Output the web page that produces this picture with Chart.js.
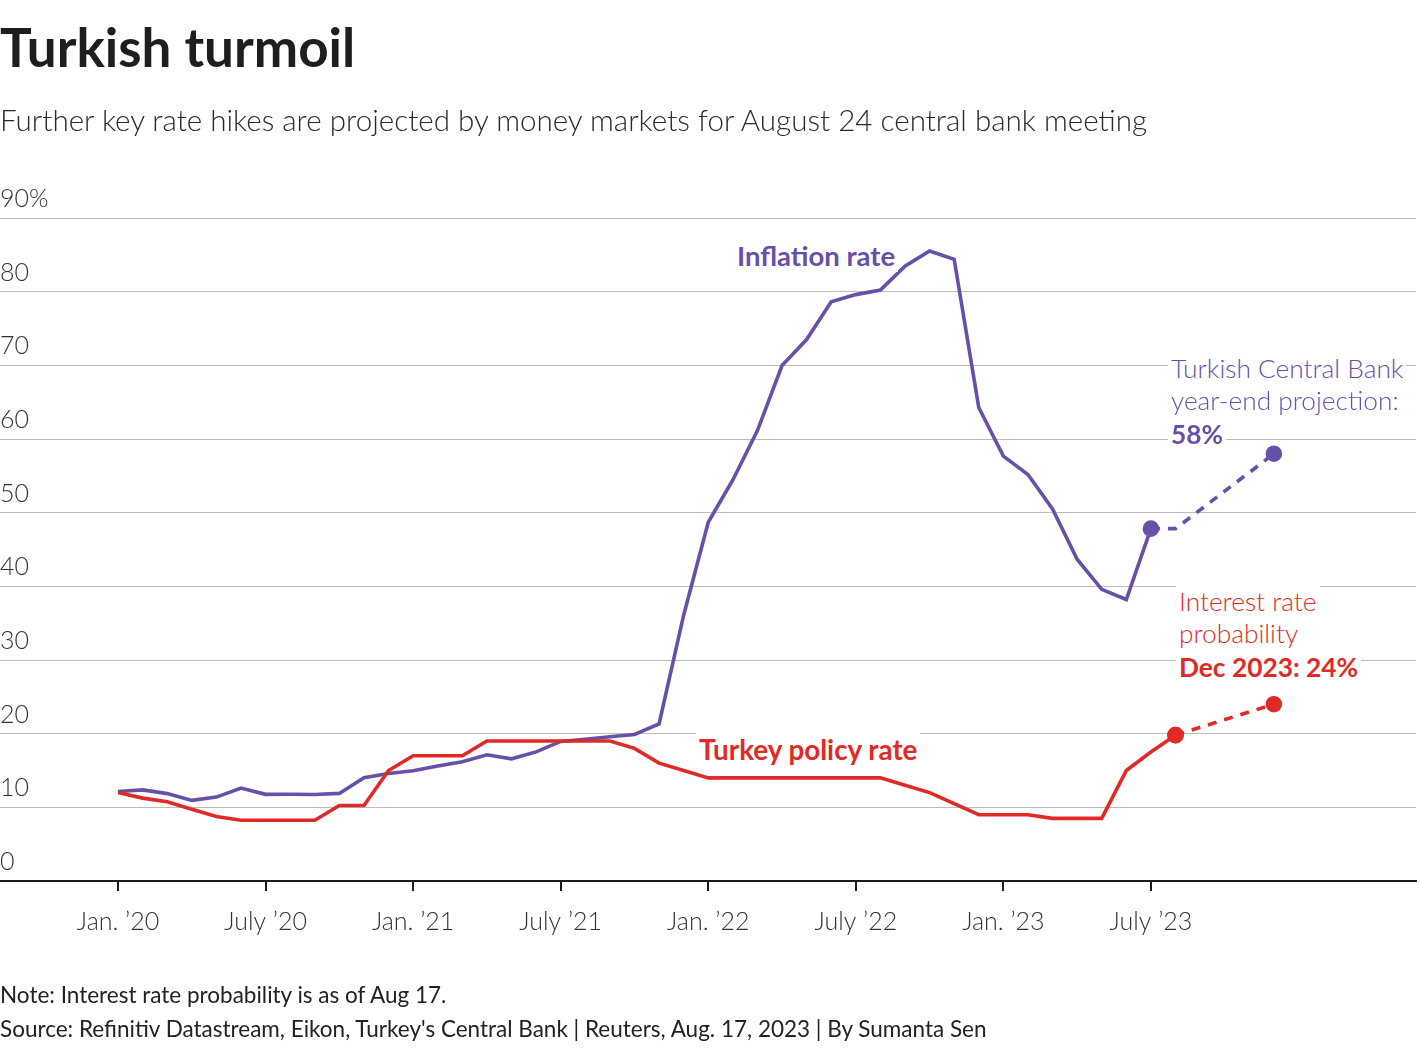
<!DOCTYPE html>
<html>
<head>
<meta charset="utf-8">
<script src="https://cdn.jsdelivr.net/npm/chart.js@4.4.0/dist/chart.umd.min.js"></script>
<style>
  body { margin: 0; background: #fff; font-family: Lato, sans-serif; }
  #page { position: relative; width: 1420px; height: 1050px; overflow: hidden; }
  #wrap { position: absolute; left: 0; top: 0; width: 1420px; height: 1050px; }
  .txt { position: absolute; white-space: nowrap; line-height: 1; }
  .bg { background: #fff; padding: 0 3px; margin-left: -3px; }
  .purple { color: #6650a8; }
  .red { color: #e02a25; }
</style>
</head>
<body>
<div id="page">
  <div id="wrap"><canvas id="chart"></canvas></div>

  <div class="txt" style="left:0; top:15px; font-size:53px; font-weight:700; color:#1e1e1e; line-height:1.2;">Turkish turmoil</div>
  <div class="txt" style="left:0; top:102px; font-size:29.6px; font-weight:300; color:#2a2a2a; line-height:1.2;">Further key rate hikes are projected by money markets for August 24 central bank meeting</div>

  <div class="txt purple" style="left:737px; top:242px; font-size:27.5px; font-weight:700;"><span class="bg">Inflation rate</span></div>
  <div class="txt red" style="left:699px; top:735.5px; font-size:27.8px; font-weight:700;"><span class="bg">Turkey policy rate</span></div>

  <div class="txt purple" style="left:1171px; top:355px; font-size:26.3px; font-weight:300;"><span class="bg">Turkish Central Bank</span></div>
  <div class="txt purple" style="left:1171px; top:387px; font-size:26.3px; font-weight:300;"><span class="bg">year-end projection:</span></div>
  <div class="txt purple" style="left:1171px; top:421px; font-size:26.3px; font-weight:700;"><span class="bg">58%</span></div>

  <div class="txt red" style="left:1179px; top:588px; font-size:26.3px; font-weight:300;"><span class="bg">Interest rate</span></div>
  <div class="txt red" style="left:1179px; top:620px; font-size:26.3px; font-weight:300;"><span class="bg">probability</span></div>
  <div class="txt red" style="left:1179px; top:654px; font-size:26.3px; font-weight:700;"><span class="bg">Dec 2023: 24%</span></div>

  <div class="txt" style="left:0; top:983.5px; font-size:22.5px; color:#222;">Note: Interest rate probability is as of Aug 17.</div>
  <div class="txt" style="left:0; top:1017.5px; font-size:22.5px; color:#222;">Source: Refinitiv Datastream, Eikon, Turkey's Central Bank | Reuters, Aug. 17, 2023 | By Sumanta Sen</div>
</div>

<script>
// monthly values, index 0 = Jan 2020
const inflation = [
  12.15, 12.37, 11.86, 10.94, 11.39, 12.62, 11.76, 11.77, 11.75, 11.89, 14.03, 14.60,
  14.97, 15.61, 16.19, 17.14, 16.59, 17.53, 18.95, 19.25, 19.58, 19.89, 21.31, 36.08,
  48.69, 54.44, 61.14, 69.97, 73.50, 78.62, 79.60, 80.21, 83.45, 85.51, 84.39, 64.27,
  57.68, 55.18, 50.51, 43.68, 39.59, 38.21, 47.83
];
const policyRate = [
  12, 11.25, 10.75, 9.75, 8.75, 8.25, 8.25, 8.25, 8.25, 10.25, 10.25, 15,
  17, 17, 17, 19, 19, 19, 19, 19, 19, 18, 16, 15,
  14, 14, 14, 14, 14, 14, 14, 14, 13, 12, 10.5, 9,
  9, 9, 8.5, 8.5, 8.5, 15, 17.5, 19.8
];

// projections (month index, value)
const inflationProjMonths = [42, 43, 47];
const inflationProj = [47.83, 47.83, 58];
const rateProjMonths = [43, 47];
const rateProj = [19.8, 24];

const tickMonths = [0, 6, 12, 18, 24, 30, 36, 42];
const tickLabels = ["Jan. \u201920", "July \u201920", "Jan. \u201921", "July \u201921", "Jan. \u201922", "July \u201922", "Jan. \u201923", "July \u201923"];

const PURPLE = "#6650a8";
const RED = "#e02a25";

const toXY = (vals, xs) => vals.map((v, i) => ({ x: xs ? xs[i] : i, y: v }));

const lastDot = (n) => policyRate.map((_, i) => (i === n ? 6.5 : 0));

new Chart(document.getElementById("chart"), {
  type: "line",
  data: {
    datasets: [
      {
        data: toXY(policyRate),
        borderColor: RED,
        backgroundColor: RED,
        borderWidth: 3.6,
        pointRadius: lastDot(policyRate.length - 1),
        tension: 0,
      },
      {
        data: toXY(rateProj, rateProjMonths),
        borderColor: RED,
        backgroundColor: RED,
        borderWidth: 3.6,
        borderDash: [9, 8],
        pointRadius: 6.5,
        tension: 0,
      },
      {
        data: toXY(inflation),
        borderColor: PURPLE,
        backgroundColor: PURPLE,
        borderWidth: 3.6,
        pointRadius: 0,
        tension: 0,
      },
      {
        data: toXY(inflationProj, inflationProjMonths),
        borderColor: PURPLE,
        backgroundColor: PURPLE,
        borderWidth: 3.6,
        borderDash: [9, 8],
        pointRadius: [6.5, 0, 6.5],
        tension: 0,
      },
    ],
  },
  options: {
    responsive: true,
    maintainAspectRatio: false,
    animation: false,
    clip: false,
    layout: { autoPadding: false, padding: { top: 218, left: 0, right: 4, bottom: 109 } },
    plugins: { legend: { display: false }, tooltip: { enabled: false } },
    scales: {
      x: {
        type: "linear",
        min: -4.8,
        max: 52.78,
        afterBuildTicks: (s) => { s.ticks = tickMonths.map((v) => ({ value: v })); },
        afterFit: (s) => {
          s.height = 60;
          s.paddingLeft = 0;
          s.paddingRight = 0;
        },
        grid: { drawOnChartArea: false, drawTicks: true, tickLength: 10, color: "#1a1a1a", lineWidth: 2 },
        border: { display: true, color: "#1a1a1a", width: 2 },
        ticks: {
          padding: 16,
          color: "#333",
          maxRotation: 0,
          autoSkip: false,
          font: { family: "Lato", size: 25, weight: "300" },
          callback: (v, i) => tickLabels[i],
        },
      },
      y: {
        min: 0,
        max: 90,
        afterFit: (s) => {
          s.width = 0;
          s.paddingTop = 0;
          s.paddingBottom = 0;
        },
        border: { display: false },
        grid: {
          drawTicks: false,
          lineWidth: 1,
          color: (c) => (c.tick && c.tick.value === 0 ? "rgba(0,0,0,0)" : "#bcbcbc"),
        },
        ticks: {
          stepSize: 10,
          mirror: true,
          padding: 0,
          labelOffset: -19,
          color: "#333",
          font: { family: "Lato", size: 25, weight: "300" },
          callback: (v) => (v === 90 ? "90%" : v),
        },
      },
    },
  },
});
</script>
</body>
</html>
